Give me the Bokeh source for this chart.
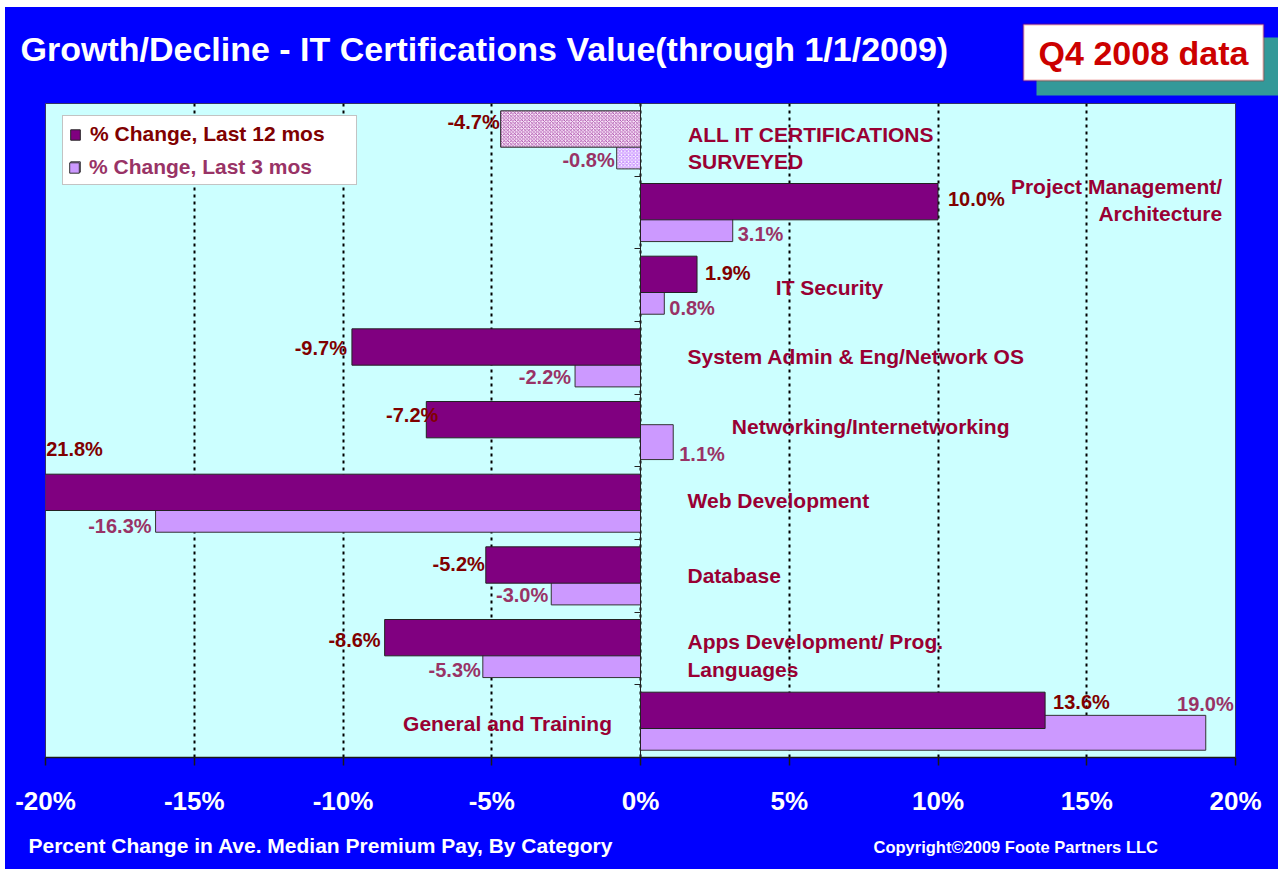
from bokeh.plotting import figure
from bokeh.layouts import column
from bokeh.models import (ColumnDataSource, Range1d, FixedTicker, LinearAxis,
                          Legend, LegendItem, Label, BoxAnnotation)
from bokeh.core.properties import value
from bokeh.embed import file_html
from bokeh.resources import INLINE

# ---------------- data ----------------
categories = [
    "ALL IT CERTIFICATIONS\nSURVEYED",
    "Project Management/\nArchitecture",
    "IT Security",
    "System Admin & Eng/Network OS",
    "Networking/Internetworking",
    "Web Development",
    "Database",
    "Apps Development/ Prog.\nLanguages",
    "General and Training",
]
change_12mo = [-4.7, 10.0, 1.9, -9.7, -7.2, -21.8, -5.2, -8.6, 13.6]
change_3mo = [-0.8, 3.1, 0.8, -2.2, 1.1, -16.3, -3.0, -5.3, 19.0]
series_names = ["% Change, Last 12 mos", "% Change, Last 3 mos"]
x_ticks = [-20, -15, -10, -5, 0, 5, 10, 15, 20]
x_tick_labels = ["-20%", "-15%", "-10%", "-5%", "0%", "5%", "10%", "15%", "20%"]
title_text = "Growth/Decline - IT Certifications Value(through 1/1/2009)"
badge_text = "Q4 2008 data"
footer_left = "Percent Change in Ave. Median Premium Pay, By Category"
footer_right = "Copyright\u00a92009 Foote Partners LLC"

# ---------------- styles / positions ----------------
highlight = [True, False, False, False, False, False, False, False, False]
cat_label_x = [1.6, 19.55, 4.55, 1.58, 3.07, 1.58, 1.58, 1.58, -7.98]
cat_label_align = ["left", "right", "left", "left", "left", "left", "left", "left", "left"]
cat_label_dy = [0.61, 0.33, 0.53, 0.48, 0.44, 0.46, 0.50, 0.60, 0.53]

lab12_align = ["right", "left", "left", "right", "right", "left", "right", "right", "left"]
lab12_dx = [-1, 10, 8, -5, 12, -6, -1, -4, 8]
lab12_dy = [0.26, 0.32, 0.33, 0.36, 0.28, -0.25, 0.34, 0.38, 0.23]

lab3_align = ["right", "left", "left", "right", "left", "right", "right", "right", "right"]
lab3_dx = [-2, 5, 5, -4, 6, -4, -3, -2, 28]
lab3_dy = [0.78, 0.80, 0.81, 0.76, 0.82, 0.81, 0.77, 0.80, 0.26]

FONT = "Liberation Sans"
BLUE = "#0000FF"
C12 = "#800080"
C3 = "#CC99FF"
X_MIN, X_MAX = -20, 20
n = len(categories)
W = 1273
H_HEAD, H_MAIN, H_FOOT = 93, 725, 44


def banner(height):
    f = figure(width=W, height=height, x_range=Range1d(0, W), y_range=Range1d(height, 0),
               output_backend="svg", toolbar_location=None, tools="", title=None,
               x_axis_location=None, y_axis_location=None, min_border=0,
               frame_align=False)
    f.grid.visible = False
    f.border_fill_color = BLUE
    f.background_fill_color = BLUE
    f.outline_line_color = None
    return f


# ---------------- header ----------------
head = banner(H_HEAD)
head.add_layout(Label(x=15, y=41, text=title_text, text_color="white", text_font=FONT,
                      text_font_style="bold", text_font_size="34px",
                      text_baseline="alphabetic"))
head.add_layout(BoxAnnotation(left=1031, right=1273, top=30, bottom=88,
                              fill_color="#339999", fill_alpha=1, line_alpha=0))
head.add_layout(BoxAnnotation(left=1018, right=1258, top=17, bottom=73,
                              fill_color="white", fill_alpha=1,
                              line_color="#CC0000", line_width=2))
head.add_layout(Label(x=1138, y=45, text=badge_text, text_color="#CC0000", text_font=FONT,
                      text_font_style="bold", text_font_size="34px",
                      text_align="center", text_baseline="alphabetic"))

# ---------------- main chart ----------------
p = figure(width=W, height=H_MAIN, x_range=Range1d(X_MIN, X_MAX), y_range=Range1d(n, 0),
           output_backend="svg", toolbar_location=None, tools="", title=None,
           y_axis_location=None, frame_align=False,
           min_border_left=40, min_border_right=43, min_border_top=3, min_border_bottom=68)
p.border_fill_color = BLUE
p.background_fill_color = "#CCFFFF"
p.outline_line_color = "#333366"
p.outline_line_width = 1

p.xaxis.ticker = FixedTicker(ticks=x_ticks)
p.xaxis.major_label_overrides = {t: l for t, l in zip(x_ticks, x_tick_labels)}
p.xaxis.major_label_text_color = "white"
p.xaxis.major_label_text_font = FONT
p.xaxis.major_label_text_font_style = "bold"
p.xaxis.major_label_text_font_size = "26px"
p.xaxis.major_label_standoff = 20
p.xaxis.major_tick_out = 8
p.xaxis.major_tick_in = 0
p.xaxis.minor_tick_out = 0
p.xaxis.minor_tick_in = 0
p.xaxis.axis_line_color = "#1a1a1a"
p.xaxis.axis_line_width = 1.5
p.xaxis.major_tick_line_color = "#1a1a1a"
p.xaxis.major_tick_line_width = 1.5

p.xgrid.ticker = FixedTicker(ticks=x_ticks)
p.xgrid.grid_line_color = "black"
p.xgrid.grid_line_width = 2
p.xgrid.grid_line_dash = "3 4"
p.ygrid.visible = False

yax = LinearAxis(fixed_location=0, ticker=FixedTicker(ticks=list(range(n + 1))),
                 major_tick_out=6, major_tick_in=0, minor_tick_out=0, minor_tick_in=0,
                 axis_line_color="#222222", major_tick_line_color="#222222",
                 major_label_overrides={i: "" for i in range(n + 1)},
                 major_label_text_font_size="1px")
p.add_layout(yax, "left")

src = ColumnDataSource(dict(
    y12=[i + 0.351 for i in range(n)],
    y3=[i + 0.66 for i in range(n)],
    v12=change_12mo,
    v3=change_3mo,
    f12=["#F8E4F8" if h else C12 for h in highlight],
    f3=["#FFFFFF" if h else C3 for h in highlight],
    h12=["x" if h else " " for h in highlight],
    h3=["x" if h else " " for h in highlight],
))

r3 = p.hbar(y="y3", left=0, right="v3", height=0.48, source=src,
            fill_color="f3", hatch_pattern="h3", hatch_color=C3, hatch_scale=3.5, hatch_weight=1.2,
            line_color="#333333", line_width=1)
r12 = p.hbar(y="y12", left=0, right="v12", height=0.5, source=src,
             fill_color="f12", hatch_pattern="h12", hatch_color="#A03CA0", hatch_scale=3.5,
             hatch_weight=0.8, line_color="#222222", line_width=1)

lab_src = ColumnDataSource(dict(
    x12=[max(v, X_MIN) for v in change_12mo],
    y12=[i + d for i, d in enumerate(lab12_dy)],
    t12=[f"{v:.1f}%" for v in change_12mo],
    a12=lab12_align, dx12=lab12_dx,
    x3=[max(v, X_MIN) for v in change_3mo],
    y3=[i + d for i, d in enumerate(lab3_dy)],
    t3=[f"{v:.1f}%" for v in change_3mo],
    a3=lab3_align, dx3=lab3_dx,
    cx=cat_label_x,
    cy=[i + d for i, d in enumerate(cat_label_dy)],
    ct=categories, ca=cat_label_align,
))
p.text(x="x12", y="y12", text="t12", text_align="a12", x_offset="dx12", source=lab_src,
       text_baseline="middle", text_font=value(FONT), text_font_style="bold",
       text_font_size="20px", text_color="#800000")
p.text(x="x3", y="y3", text="t3", text_align="a3", x_offset="dx3", source=lab_src,
       text_baseline="middle", text_font=value(FONT), text_font_style="bold",
       text_font_size="20px", text_color="#993366")
p.text(x="cx", y="cy", text="ct", text_align="ca", source=lab_src,
       text_baseline="middle", text_font=value(FONT), text_font_style="bold",
       text_font_size="21px", text_color="#990033", text_line_height=1.2)

common = dict(padding=6, spacing=8, margin=0, glyph_width=12, glyph_height=13,
              label_standoff=9, label_width=260, label_height=24,
              label_text_font=FONT, label_text_font_style="bold", label_text_font_size="21px")
leg1 = Legend(items=[LegendItem(label=series_names[0], renderers=[r12], index=1),
                     LegendItem(label=" ", renderers=[r3], index=1)],
              location=(17, 572), background_fill_color="white", background_fill_alpha=1,
              border_line_color="#888888", border_line_width=1,
              label_text_color="#800000", **common)
leg2 = Legend(items=[LegendItem(label=series_names[1], renderers=[r3], index=1)],
              location=(17, 572), background_fill_alpha=0, border_line_alpha=0,
              label_text_color="#993366", **common)
p.add_layout(leg1)
p.add_layout(leg2)

# ---------------- footer ----------------
foot = banner(H_FOOT)
foot.add_layout(Label(x=23, y=20, text=footer_left, text_color="white", text_font=FONT,
                      text_font_style="bold", text_font_size="21px", text_baseline="middle"))
foot.add_layout(Label(x=868, y=21, text=footer_right, text_color="white", text_font=FONT,
                      text_font_style="bold", text_font_size="16.5px", text_baseline="middle"))

layout = column(head, p, foot, spacing=0, margin=(7, 0, 0, 5),
                styles={"background-color": BLUE})
open("out.html", "w").write(file_html(layout, INLINE))
